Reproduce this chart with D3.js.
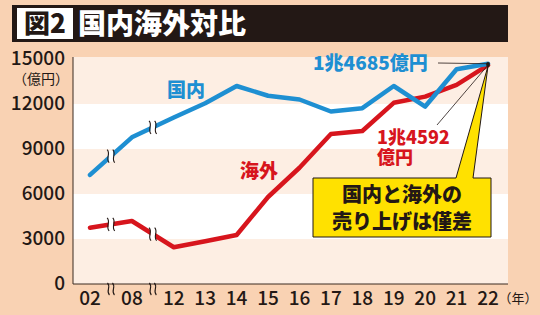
<!DOCTYPE html>
<meta charset="utf-8">
<style>
  body { margin: 0; background: #f9d2b3; }
  svg { display: block; }
  text { font-family: "Noto Sans CJK JP", "Noto Sans", sans-serif; }
</style>
<script src="https://d3js.org/d3.v7.min.js"></script>
<div id="chart"></div>
<script>
// dati (億円)
var years = ["02", "08", "12", "13", "14", "15", "16", "17", "18", "19", "20", "21", "22"];
var domestic = [7270, 9780, 11100, 12050, 13200, 12550, 12300, 11500, 11720, 13200, 11830, 14320, 14685];
var overseas = [3750, 4200, 2450, 2850, 3270, 5800, 7750, 10000, 10200, 12080, 12490, 13270, 14592];
var yTicks = [0, 3000, 6000, 9000, 12000, 15000];

var W = 540, H = 315;
var plot = { left: 73, right: 508, top: 57, bottom: 284 };

// 02 e 08 hanno uno spazio in più (assi spezzati)
var gap = 1 / 3;
function slot(i) { return i + gap * Math.min(i, 2); }

var x = d3.scaleLinear().domain([0, slot(years.length - 1)]).range([90, 488]);
var y = d3.scaleLinear().domain([0, 15000]).range([284, 59]);

var svg = d3.select("#chart").append("svg")
  .attr("width", W).attr("height", H);

svg.append("rect").attr("width", W).attr("height", H).attr("fill", "#f9d2b3");

// titolo
svg.append("rect").attr("x", 12).attr("y", 5).attr("width", 496).attr("height", 37).attr("fill", "#231815");
svg.append("rect").attr("x", 17).attr("y", 8).attr("width", 56).attr("height", 31).attr("fill", "#fff");
svg.append("text").attr("x", 45).attr("y", 33).attr("text-anchor", "middle")
  .attr("font-size", 26).attr("font-weight", 900).attr("fill", "#231815").text("図2");
svg.append("text").attr("x", 78).attr("y", 34)
  .attr("font-size", 28).attr("font-weight", 900).attr("fill", "#fff").text("国内海外対比");

// fondo a bande
svg.append("rect").attr("x", plot.left).attr("y", plot.top)
  .attr("width", plot.right - plot.left).attr("height", plot.bottom - plot.top).attr("fill", "#fff");
[[12000, 15000], [6000, 9000], [0, 3000]].forEach(function(b) {
  var top = b[1] === 15000 ? plot.top : y(b[1]);
  svg.append("rect").attr("x", plot.left).attr("y", top)
    .attr("width", plot.right - plot.left).attr("height", y(b[0]) - top).attr("fill", "#fdeee3");
});

// assi
svg.append("line").attr("x1", plot.left).attr("x2", plot.left).attr("y1", plot.top).attr("y2", plot.bottom)
  .attr("stroke", "#3a2a20").attr("stroke-width", 1);
svg.append("line").attr("x1", plot.left).attr("x2", plot.right).attr("y1", plot.bottom).attr("y2", plot.bottom)
  .attr("stroke", "#3a2a20").attr("stroke-width", 1);

svg.selectAll(".ytick").data(yTicks).enter().append("text")
  .attr("x", 65).attr("y", function(d) { return y(d) + 6; })
  .attr("text-anchor", "end").attr("font-size", 19).attr("font-weight", 500).attr("fill", "#231815")
  .text(function(d) { return d; });
svg.append("text").attr("x", 41).attr("y", 84).attr("text-anchor", "middle")
  .attr("font-size", 14).attr("fill", "#231815").text("（億円）");

svg.selectAll(".xtick").data(years).enter().append("text")
  .attr("x", function(d, i) { return x(slot(i)); }).attr("y", 305)
  .attr("text-anchor", "middle").attr("font-size", 19).attr("font-weight", 500).attr("fill", "#231815")
  .text(function(d) { return d; });
svg.append("text").attr("x", 518).attr("y", 303).attr("text-anchor", "middle")
  .attr("font-size", 13).attr("fill", "#231815").text("（年）");

// linee
var line = d3.line()
  .x(function(d, i) { return x(slot(i)); })
  .y(function(d) { return y(d); });

svg.append("path").datum(overseas).attr("d", line)
  .attr("fill", "none").attr("stroke", "#d7151d").attr("stroke-width", 4.5)
  .attr("stroke-linejoin", "round").attr("stroke-linecap", "round");
svg.append("path").datum(domestic).attr("d", line)
  .attr("fill", "none").attr("stroke", "#1e8fd2").attr("stroke-width", 4.5)
  .attr("stroke-linejoin", "round").attr("stroke-linecap", "round");

// segni di interruzione
function wave(g, cx, cy, h) {
  var p = d3.path();
  p.moveTo(cx - 1, cy - h / 2);
  p.bezierCurveTo(cx + 3, cy - h / 6, cx - 3, cy + h / 6, cx + 1, cy + h / 2);
  g.append("path").attr("d", p.toString()).attr("fill", "none")
    .attr("stroke", "#231815").attr("stroke-width", 1.1);
}
function breakMark(cx, cy) {
  svg.append("rect").attr("x", cx - 2.4).attr("y", cy - 5.5).attr("width", 4.8).attr("height", 11).attr("fill", "#fff");
  wave(svg, cx - 2.8, cy, 13);
  wave(svg, cx + 2.8, cy, 13);
}
[0, 1].forEach(function(i) {
  var s = (slot(i) + slot(i + 1)) / 2;
  [domestic, overseas].forEach(function(arr) {
    breakMark(x(s), y((arr[i] + arr[i + 1]) / 2));
  });
  wave(svg, x(s) - 2.5, 289, 12);
  wave(svg, x(s) + 2.5, 289, 12);
});

// etichette serie
svg.append("text").attr("x", 167).attr("y", 97).attr("font-size", 19).attr("font-weight", 900)
  .attr("fill", "#1e8fd2").text("国内");
svg.append("text").attr("x", 240).attr("y", 178).attr("font-size", 19).attr("font-weight", 900)
  .attr("fill", "#d7151d").text("海外");

// annotazioni finali
var last = years.length - 1;
var ex = x(slot(last));

// riquadro giallo con freccia
var box = { x0: 313, x1: 491, y0: 178, y1: 237 };
var call = d3.path();
call.moveTo(box.x0, box.y0);
call.lineTo(456, box.y0);
call.lineTo(ex, y(overseas[last]) + 1);
call.lineTo(473, box.y0);
call.lineTo(box.x1, box.y0);
call.lineTo(box.x1, box.y1);
call.lineTo(box.x0, box.y1);
call.closePath();
svg.append("path").attr("d", call.toString()).attr("fill", "#ffe100")
  .attr("stroke", "#231815").attr("stroke-width", 1);
svg.append("text").attr("x", 402).attr("y", 202).attr("text-anchor", "middle")
  .attr("font-size", 20).attr("font-weight", 900).attr("fill", "#231815").text("国内と海外の");
svg.append("text").attr("x", 402).attr("y", 229).attr("text-anchor", "middle")
  .attr("font-size", 20).attr("font-weight", 900).attr("fill", "#231815").text("売り上げは僅差");

svg.append("line").attr("x1", 438).attr("y1", 63).attr("x2", ex).attr("y2", y(domestic[last]))
  .attr("stroke", "#231815").attr("stroke-width", 0.8);
svg.append("line").attr("x1", 437).attr("y1", 125).attr("x2", ex).attr("y2", y(overseas[last]))
  .attr("stroke", "#231815").attr("stroke-width", 0.8);
svg.append("circle").attr("cx", ex).attr("cy", y(domestic[last])).attr("r", 1.8).attr("fill", "#231815");
svg.append("circle").attr("cx", ex).attr("cy", y(overseas[last])).attr("r", 1.8).attr("fill", "#231815");

svg.append("text").attr("x", 313).attr("y", 70).attr("font-size", 19).attr("font-weight", 900)
  .attr("fill", "#1e8fd2").text("1兆4685億円");
svg.append("text").attr("x", 377).attr("y", 144).attr("font-size", 18).attr("font-weight", 900)
  .attr("fill", "#d7151d").text("1兆4592");
svg.append("text").attr("x", 377).attr("y", 164).attr("font-size", 18).attr("font-weight", 900)
  .attr("fill", "#d7151d").text("億円");
</script>
